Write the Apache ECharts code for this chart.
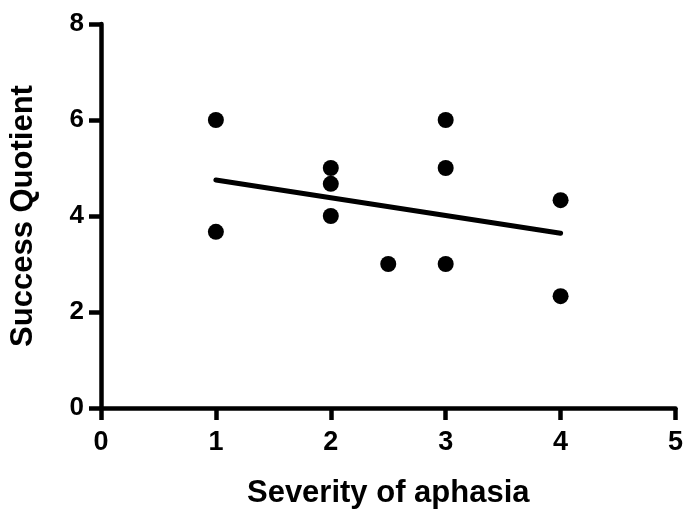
<!DOCTYPE html>
<html>
<head>
<meta charset="utf-8">
<script src="https://cdn.jsdelivr.net/npm/echarts@6/dist/echarts.min.js"></script>
<style>
  html, body { margin: 0; padding: 0; background: #fff; }
  #chart { width: 686px; height: 516px; }
</style>
</head>
<body>
<div id="chart"></div>
<script>
// severity (x) and success quotient (y) for each subject
const severity = [1, 1, 2, 2, 2, 2.5, 3, 3, 3, 4, 4];
const quotient = [6, 3.67, 5, 4.67, 4, 3, 6, 5, 3, 4.33, 2.33];
// fitted line end points
const fitX = [1, 4];
const fitY = [4.75, 3.64];

const font = 'Liberation Sans, Arial, Helvetica, sans-serif';

const chart = echarts.init(document.getElementById('chart'));
chart.setOption({
    animation: false,
    grid: { left: 100, right: 8, top: 24, bottom: 108 },
    xAxis: {
        type: 'value',
        min: 0, max: 5, interval: 1,
        name: 'Severity of aphasia',
        nameLocation: 'middle',
        nameGap: 70,
        nameTextStyle: { color: '#000', fontSize: 31, fontWeight: 'bold', fontFamily: font },
        axisLine: { lineStyle: { color: '#000', width: 4.5 } },
        axisTick: { length: 12, lineStyle: { color: '#000', width: 4.5 } },
        axisLabel: { margin: 21, color: '#000', fontSize: 27, fontWeight: 'bold', fontFamily: font },
        splitLine: { show: false }
    },
    yAxis: {
        type: 'value',
        min: 0, max: 8, interval: 2,
        name: 'Success Quotient',
        nameLocation: 'middle',
        nameGap: 62,
        nameTextStyle: { color: '#000', fontSize: 31, fontWeight: 'bold', fontFamily: font },
        axisLine: { show: true, lineStyle: { color: '#000', width: 4.5 } },
        axisTick: { show: true, length: 12, lineStyle: { color: '#000', width: 4.5 } },
        axisLabel: { margin: 17, color: '#000', fontSize: 26, fontWeight: 'bold', fontFamily: font },
        splitLine: { show: false }
    },
    series: [
        {
            type: 'line',
            data: fitX.map((x, i) => [x, fitY[i]]),
            symbol: 'none',
            lineStyle: { color: '#000', width: 5, cap: 'round' }
        },
        {
            type: 'scatter',
            data: severity.map((x, i) => [x, quotient[i]]),
            symbol: 'circle',
            symbolSize: 16,
            itemStyle: { color: '#000', opacity: 1 }
        }
    ]
});
</script>
</body>
</html>
